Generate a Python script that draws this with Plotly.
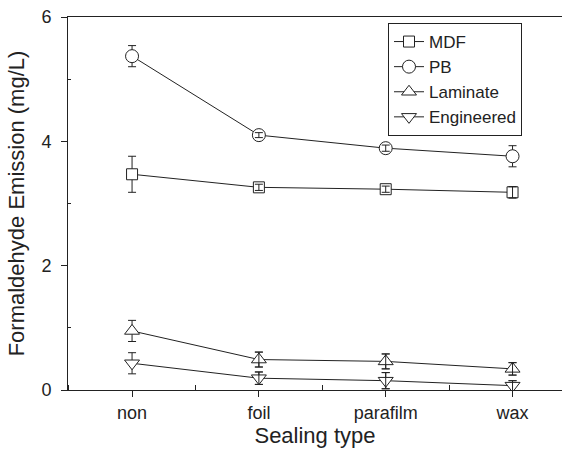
import plotly.graph_objects as go

categories = ["non", "foil", "parafilm", "wax"]

mdf = [3.47, 3.26, 3.23, 3.18]
mdf_err = [0.29, 0.05, 0.05, 0.09]
pb = [5.37, 4.10, 3.89, 3.76]
pb_err = [0.17, 0.04, 0.05, 0.17]
laminate = [0.95, 0.49, 0.46, 0.34]
laminate_err = [0.17, 0.12, 0.12, 0.10]
engineered = [0.43, 0.19, 0.15, 0.07]
engineered_err = [0.17, 0.10, 0.13, 0.08]

series = [
    ("MDF", mdf, mdf_err, "square", 11),
    ("PB", pb, pb_err, "circle", 13),
    ("Laminate", laminate, laminate_err, "triangle-up", 13),
    ("Engineered", engineered, engineered_err, "triangle-down", 13),
]

xs = list(range(len(categories)))
ink = "#222222"
fig = go.Figure()
for name, vals, errs, sym, size in series:
    fig.add_trace(go.Scatter(
        x=xs, y=vals, name=name, mode="lines+markers",
        line=dict(color=ink, width=1),
        marker=dict(symbol=sym, size=size, color="white", line=dict(color=ink, width=1)),
        error_y=dict(type="data", array=errs, visible=True, color=ink, thickness=1, width=4),
    ))
# small error bars that sit inside the markers are visible on top of them
for name, vals, errs, sym, size in series:
    sx = [x for x, e in zip(xs, errs) if e <= 0.13]
    sy = [v for v, e in zip(vals, errs) if e <= 0.13]
    se = [e for e in errs if e <= 0.13]
    fig.add_trace(go.Scatter(
        x=sx, y=sy, mode="markers", showlegend=False, hoverinfo="skip",
        marker=dict(size=1, opacity=0),
        error_y=dict(type="data", array=se, visible=True, color=ink, thickness=1, width=4),
    ))

fam = "Liberation Sans, Arial, sans-serif"
font = dict(family=fam, size=18, color="#222222")
fig.update_layout(
    width=574, height=452,
    margin=dict(l=68, r=12, t=17, b=62),
    paper_bgcolor="white", plot_bgcolor="white",
    font=font,
    showlegend=True,
    legend=dict(
        x=(388 - 68) / 494, y=1 - (23 - 17) / 373, xanchor="left", yanchor="top",
        bordercolor=ink, borderwidth=1, bgcolor="white",
        font=dict(family=fam, size=17, color="#222222"),
        tracegroupgap=0, itemwidth=30,
    ),
    xaxis=dict(
        range=[-0.505, 3.39], tickvals=xs, ticktext=categories,
        showline=True, linecolor=ink, linewidth=1, mirror=True,
        ticks="outside", ticklen=6, tickcolor=ink,
        minor=dict(tick0=0.5, dtick=1, ticks="inside", ticklen=5, tickcolor=ink),
        showgrid=False, zeroline=False, automargin=False,
        title=dict(text="Sealing type", standoff=6),
    ),
    yaxis=dict(
        range=[0, 6], tickvals=[0, 2, 4, 6],
        showline=True, linecolor=ink, linewidth=1,
        ticks="outside", ticklen=6, tickcolor=ink, ticklabelstandoff=6,
        minor=dict(tickvals=[1, 3, 5], ticks="inside", ticklen=3, tickcolor=ink),
        showgrid=False, zeroline=False, automargin=False,
        title=dict(text="Formaldehyde Emission (mg/L)", standoff=10),
    ),
)
fig.write_html("out.html", config={"displayModeBar": False},
               post_script="document.body.style.margin='0px';")
